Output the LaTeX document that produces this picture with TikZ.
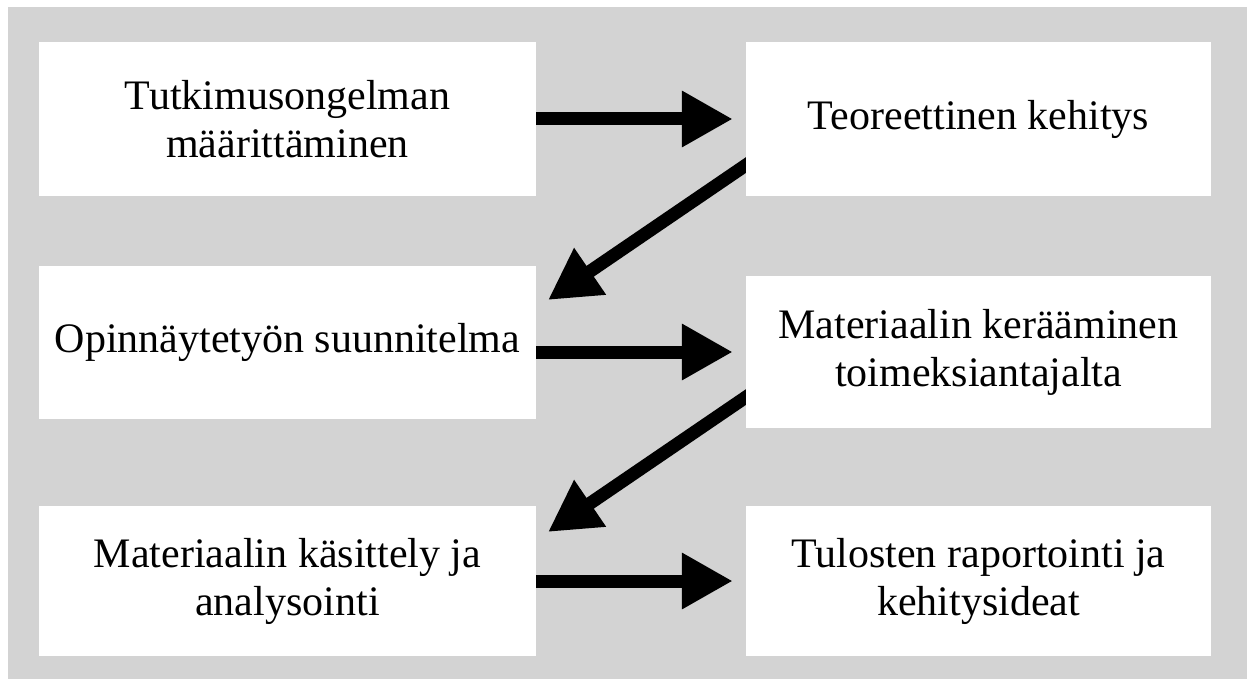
\documentclass[tikz,border=0pt]{standalone}
\usepackage{fontspec}
\setmainfont{Liberation Serif}
\usetikzlibrary{arrows.meta,backgrounds,positioning}
\definecolor{paneGray}{RGB}{211,211,211}

\begin{document}
\begin{tikzpicture}[x=1pt,y=-1pt,
  box/.style={fill=white,inner sep=0pt,align=center,
    font=\fontsize{42}{48}\selectfont},
  leftbox/.style={box,minimum width=497pt},
  rightbox/.style={box,minimum width=465pt},
  flow/.style={line width=13pt,-{Triangle[length=51pt,width=53pt]}}]
  \useasboundingbox (0,0) rectangle (1247,679);
  % boxes, left column and right column
  \node[leftbox,minimum height=154pt] (tutk) at (287.5,119)
    {Tutkimusongelman\\määrittäminen};
  \node[rightbox,minimum height=154pt] (teor) at (978.5,119)
    {Teoreettinen kehitys};
  \node[leftbox,minimum height=153pt] (suun) at (287.5,342.5)
    {Opinnäytetyön suunnitelma};
  \node[rightbox,minimum height=152pt] (keru) at (978.5,352)
    {Materiaalin kerääminen\\toimeksiantajalta};
  \node[leftbox,minimum height=150pt] (anal) at (287.5,581)
    {Materiaalin käsittely ja\\analysointi};
  \node[rightbox,minimum height=150pt] (tulo) at (978.5,581)
    {Tulosten raportointi ja\\kehitysideat};
  % free ends of the slanted arrows
  \coordinate (d1s) at (756,158.2);
  \coordinate (d1e) at (548,300);
  \coordinate (d2s) at (756,390.2);
  \coordinate (d2e) at (548,532);
  \begin{pgfonlayer}{background}
    \fill[paneGray] (8,7) rectangle (1247,679);
    \draw[flow] ([xshift=-2pt]tutk.east) -- ([xshift=-13pt]teor.west);
    \draw[flow] ([xshift=-2pt]suun.east |- keru.west) -- ([xshift=-13pt]keru.west);
    \draw[flow] ([xshift=-2pt]anal.east) -- ([xshift=-13pt]tulo.west);
    \draw[flow] (d1s) -- (d1e);
    \draw[flow] (d2s) -- (d2e);
  \end{pgfonlayer}
\end{tikzpicture}
\end{document}
